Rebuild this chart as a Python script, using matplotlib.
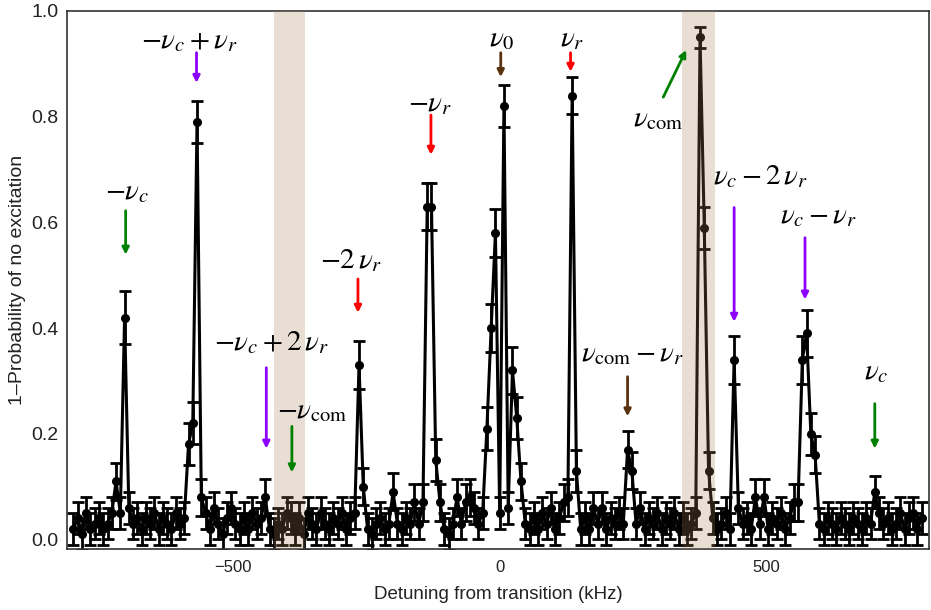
import numpy as np
import matplotlib
matplotlib.use('Agg')
import matplotlib.pyplot as plt

plt.rcParams['font.family'] = ['Liberation Sans', 'DejaVu Sans']
plt.rcParams['mathtext.fontset'] = 'stix'

# scan: detuning from -800 kHz in 8 kHz steps
scan_start = -800
scan_step = 8

# 1 - P(no excitation), one row per 80 kHz
excitation = [
    0.02, 0.04, 0.01, 0.05, 0.02, 0.03, 0.04, 0.02, 0.03, 0.05,
    0.11, 0.05, 0.42, 0.06, 0.03, 0.04, 0.02, 0.04, 0.03, 0.05,
    0.02, 0.04, 0.03, 0.02, 0.05, 0.03, 0.04, 0.18, 0.22, 0.79,
    0.08, 0.05, 0.02, 0.06, 0.03, 0.01, 0.04, 0.06, 0.03, 0.02,
    0.04, 0.02, 0.05, 0.03, 0.04, 0.08, 0.02, 0.01, 0.03, 0.02,
    0.05, 0.04, 0.02, 0.04, 0.01, 0.05, 0.03, 0.02, 0.05, 0.03,
    0.02, 0.04, 0.03, 0.05, 0.02, 0.04, 0.05, 0.33, 0.10, 0.02,
    0.01, 0.03, 0.04, 0.02, 0.03, 0.09, 0.03, 0.02, 0.04, 0.03,
    0.07, 0.03, 0.07, 0.63, 0.63, 0.15, 0.07, 0.02, 0.01, 0.03,
    0.08, 0.03, 0.07, 0.08, 0.06, 0.03, 0.05, 0.21, 0.40, 0.58,
    0.05, 0.82, 0.06, 0.32, 0.23, 0.11, 0.03, 0.02, 0.04, 0.02,
    0.05, 0.03, 0.06, 0.02, 0.04, 0.07, 0.08, 0.84, 0.13, 0.02,
    0.04, 0.02, 0.06, 0.03, 0.06, 0.02, 0.04, 0.03, 0.05, 0.03,
    0.17, 0.13, 0.03, 0.06, 0.02, 0.04, 0.03, 0.05, 0.02, 0.04,
    0.03, 0.05, 0.02, 0.04, 0.02, 0.03, 0.05, 0.95, 0.59, 0.13,
    0.04, 0.02, 0.03, 0.05, 0.02, 0.34, 0.06, 0.03, 0.04, 0.02,
    0.08, 0.03, 0.08, 0.02, 0.04, 0.03, 0.05, 0.02, 0.04, 0.07,
    0.07, 0.34, 0.39, 0.20, 0.16, 0.03, 0.02, 0.04, 0.03, 0.02,
    0.04, 0.03, 0.02, 0.04, 0.03, 0.02, 0.04, 0.03, 0.09, 0.05,
    0.03, 0.04, 0.02, 0.03, 0.05, 0.02, 0.04, 0.05, 0.02, 0.04,
]

errors = [
    0.03, 0.03, 0.03, 0.03, 0.03, 0.03, 0.03, 0.03, 0.03, 0.03,
    0.035, 0.03, 0.05, 0.03, 0.03, 0.03, 0.03, 0.03, 0.03, 0.03,
    0.03, 0.03, 0.03, 0.03, 0.03, 0.03, 0.03, 0.04, 0.04, 0.04,
    0.035, 0.03, 0.03, 0.03, 0.03, 0.03, 0.03, 0.03, 0.03, 0.03,
    0.03, 0.03, 0.03, 0.03, 0.03, 0.035, 0.03, 0.03, 0.03, 0.03,
    0.03, 0.03, 0.03, 0.03, 0.03, 0.03, 0.03, 0.03, 0.03, 0.03,
    0.03, 0.03, 0.03, 0.03, 0.03, 0.03, 0.03, 0.045, 0.035, 0.03,
    0.03, 0.03, 0.03, 0.03, 0.03, 0.035, 0.03, 0.03, 0.03, 0.03,
    0.035, 0.03, 0.035, 0.045, 0.045, 0.04, 0.035, 0.03, 0.03, 0.03,
    0.035, 0.03, 0.035, 0.035, 0.03, 0.03, 0.03, 0.04, 0.045, 0.045,
    0.03, 0.04, 0.03, 0.045, 0.04, 0.035, 0.03, 0.03, 0.03, 0.03,
    0.03, 0.03, 0.03, 0.03, 0.03, 0.035, 0.035, 0.035, 0.04, 0.03,
    0.03, 0.03, 0.03, 0.03, 0.03, 0.03, 0.03, 0.03, 0.03, 0.03,
    0.035, 0.035, 0.03, 0.03, 0.03, 0.03, 0.03, 0.03, 0.03, 0.03,
    0.03, 0.03, 0.03, 0.03, 0.03, 0.03, 0.03, 0.02, 0.04, 0.035,
    0.03, 0.03, 0.03, 0.03, 0.03, 0.045, 0.03, 0.03, 0.03, 0.03,
    0.035, 0.03, 0.035, 0.03, 0.03, 0.03, 0.03, 0.03, 0.03, 0.035,
    0.035, 0.045, 0.045, 0.04, 0.035, 0.03, 0.03, 0.03, 0.03, 0.03,
    0.03, 0.03, 0.03, 0.03, 0.03, 0.03, 0.03, 0.03, 0.03, 0.03,
    0.03, 0.03, 0.03, 0.03, 0.03, 0.03, 0.03, 0.03, 0.03, 0.03,
]

detuning = scan_start + scan_step * np.arange(len(excitation))

# shaded windows (kHz)
bands = [(-423, -365), (343, 404)]

# annotations: label, label pos (kHz, y), arrow tail, arrow head, colour
labels = [
    (r'$-\nu_c$', (-700, 0.66), (-702, 0.622), (-702, 0.539), '#008000'),
    (r'$-\nu_c+\nu_r$', (-583, 0.945), (-569, 0.921), (-569, 0.864), '#8c00ff'),
    (r'$-\nu_c+2\,\nu_r$', (-428, 0.374), (-438, 0.325), (-438, 0.172), '#8c00ff'),
    (r'$-\nu_{\rm com}$', (-352, 0.244), (-390, 0.214), (-390, 0.127), '#008000'),
    (r'$-2\,\nu_r$', (-279, 0.529), (-266, 0.493), (-266, 0.429), '#ff0000'),
    (r'$-\nu_r$', (-131, 0.826), (-129, 0.803), (-129, 0.728), '#ff0000'),
    (r'$\nu_0$', (3, 0.949), (2, 0.921), (2, 0.875), '#5a3210'),
    (r'$\nu_r$', (135, 0.949), (133, 0.921), (133, 0.885), '#ff0000'),
    (r'$\nu_{\rm com}$', (298, 0.798), (307, 0.837), (350, 0.926), '#008000'),
    (r'$\nu_{\rm com}-\nu_r$', (249, 0.352), (240, 0.308), (240, 0.233), '#5a3210'),
    (r'$\nu_c-2\,\nu_r$', (489, 0.688), (440, 0.628), (440, 0.412), '#8c00ff'),
    (r'$\nu_c-\nu_r$', (597, 0.614), (573, 0.571), (573, 0.454), '#8c00ff'),
    (r'$\nu_c$', (707, 0.318), (704, 0.257), (704, 0.172), '#008000'),
]

fig = plt.figure(figsize=(9.31, 6.10), dpi=100)
ax = fig.add_axes([0.072, 0.1, 0.926, 0.882])

ax.errorbar(detuning, excitation, yerr=errors, color='black', lw=2.2,
            marker='o', ms=5.5, elinewidth=2.0, capsize=4, capthick=2.0,
            zorder=2)

for lo, hi in bands:
    ax.axvspan(lo, hi, color='#a47c54', alpha=0.25, lw=0, zorder=3)

for text, tpos, tail, head, col in labels:
    ax.annotate('', xy=head, xytext=tail,
                arrowprops=dict(arrowstyle='-|>', color=col, lw=2,
                                mutation_scale=10, shrinkA=0, shrinkB=0),
                zorder=4)
    ax.text(tpos[0], tpos[1], text, ha='center', va='center', fontsize=21,
            zorder=5)

ax.set_xlim(-812, 806)
ax.set_ylim(-0.018, 1.0)
ax.set_xticks([-500, 0, 500])
ax.set_xticklabels(['\u2212500', '0', '500'])
ax.set_yticks([0.0, 0.2, 0.4, 0.6, 0.8, 1.0])
ax.set_yticklabels(['0.0', '0.2', '0.4', '0.6', '0.8', '1.0'])
ax.tick_params(length=0, colors='#222222')
ax.tick_params(axis='x', labelsize=12, pad=8)
ax.tick_params(axis='y', labelsize=14, pad=6)
for s in ax.spines.values():
    s.set_linewidth(1.2)
    s.set_color('#333333')

ax.set_xlabel('Detuning from transition (kHz)', fontsize=13.5, color='#222222',
              labelpad=8)
ax.set_ylabel('1\u2013Probability of no excitation', fontsize=14,
              color='#222222', labelpad=4)

fig.savefig('out.png', dpi=100)
